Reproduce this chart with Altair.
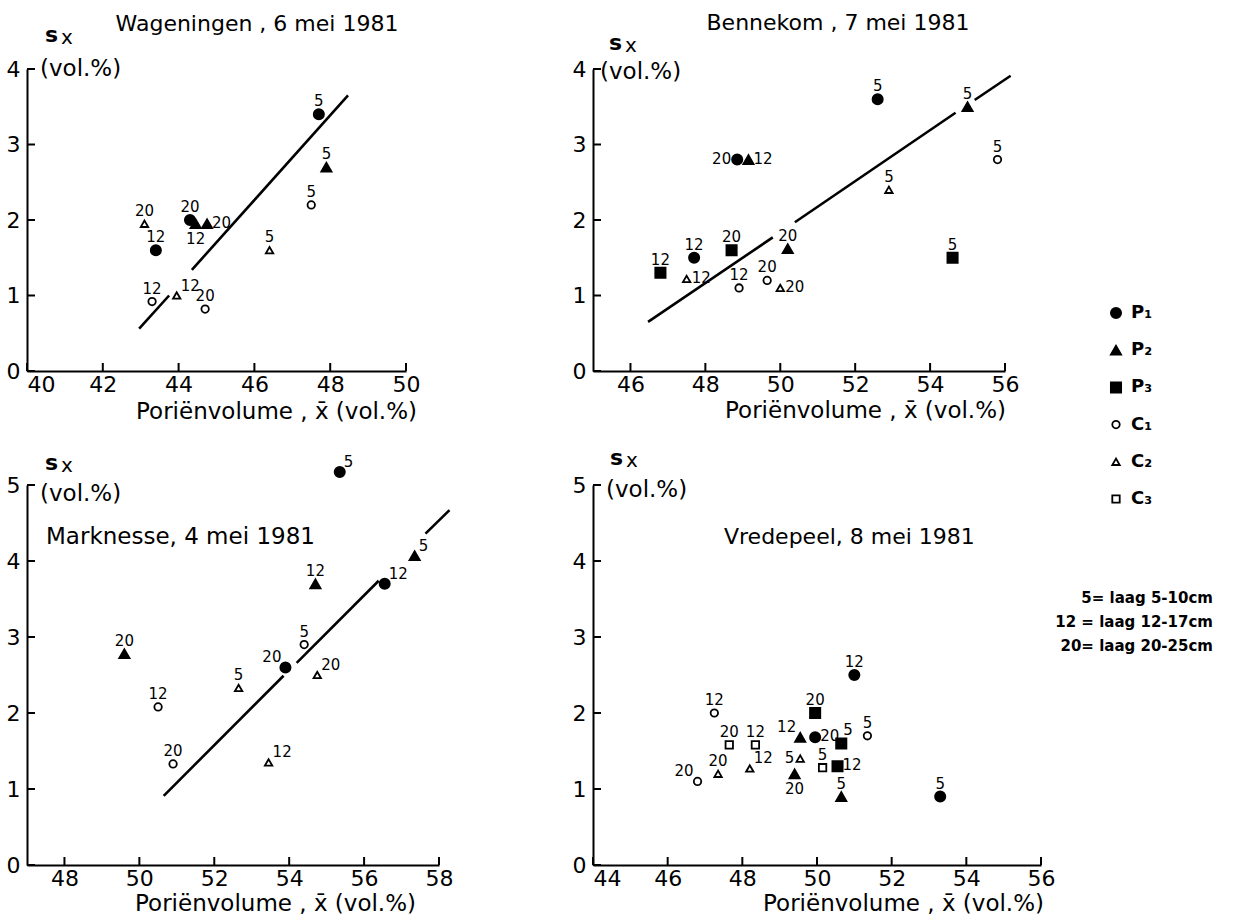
import altair as alt
import pandas as pd

FONT = "DejaVu Sans"

# Series (treatment) codes, their printed names and symbol styles
SERIES = ["P1", "P2", "P3", "C1", "C2", "C3"]
SERIES_TEXT = ["P₁", "P₂", "P₃", "C₁", "C₂", "C₃"]
SHAPES = ["circle", "triangle-up", "square", "circle", "triangle-up", "square"]
FILLS = ["black", "black", "black", "white", "white", "white"]
FILLED = ["P1", "P2", "P3"]

# --- Wageningen, 6 mei 1981 ---
wag_series = ["P1", "P2", "C1", "C2", "C2", "P1", "P1", "P2", "P2", "C1", "C2", "C1"]
wag_x = [47.7, 47.9, 47.5, 46.4, 43.1, 43.4, 44.3, 44.45, 44.75, 43.3, 43.95, 44.7]
wag_y = [3.4, 2.7, 2.2, 1.6, 1.95, 1.6, 2.0, 1.95, 1.95, 0.92, 1.0, 0.82]
wag_depth = [5, 5, 5, 5, 20, 12, 20, 12, 20, 12, 12, 20]
wag_place = ["t", "t", "t", "t", "t", "t", "t", "b", "r", "t", "tr", "t"]
wag_line_seg = [0, 0, 1, 1]
wag_line_x = [42.96, 43.75, 44.35, 48.47]
wag_line_y = [0.56, 1.00, 1.34, 3.65]

# --- Bennekom, 7 mei 1981 ---
ben_series = ["P3", "P1", "C2", "P3", "C1", "C1", "C2", "P2", "P1", "P2",
              "P1", "P2", "C2", "P3", "C1"]
ben_x = [46.8, 47.7, 47.5, 48.7, 48.9, 49.65, 50.0, 50.2, 48.85, 49.15,
         52.6, 55.0, 52.9, 54.6, 55.8]
ben_y = [1.3, 1.5, 1.22, 1.6, 1.1, 1.2, 1.1, 1.62, 2.8, 2.8,
         3.6, 3.5, 2.4, 1.5, 2.8]
ben_depth = [12, 12, 12, 20, 12, 20, 20, 20, 20, 12, 5, 5, 5, 5, 5]
ben_place = ["t", "t", "r", "t", "t", "t", "r", "t", "l", "r", "t", "t", "t", "t", "t"]
ben_line_seg = [0, 0, 1, 1, 2, 2]
ben_line_x = [46.47, 49.8, 50.39, 54.68, 55.19, 56.15]
ben_line_y = [0.65, 1.77, 1.97, 3.42, 3.59, 3.91]

# --- Marknesse, 4 mei 1981 ---
mar_series = ["P1", "P2", "C1", "C1", "C2", "C2", "P1", "C1", "P2", "C2", "P1", "P2"]
mar_x = [55.35, 49.6, 50.5, 50.9, 52.65, 53.45, 53.9, 54.4, 54.7, 54.75, 56.55, 57.35]
mar_y = [5.17, 2.78, 2.08, 1.33, 2.33, 1.35, 2.6, 2.9, 3.7, 2.5, 3.7, 4.07]
mar_depth = [5, 20, 12, 20, 5, 12, 20, 5, 12, 20, 12, 5]
mar_place = ["tr", "t", "t", "t", "t", "tr", "tl", "t", "t", "tr", "tr", "tr"]
mar_line_seg = [0, 0, 1, 1, 2, 2]
mar_line_x = [50.65, 53.85, 54.2, 56.39, 57.64, 58.28]
mar_line_y = [0.91, 2.49, 2.66, 3.74, 4.36, 4.67]

# --- Vredepeel, 8 mei 1981 ---
vre_series = ["P1", "C1", "C3", "C3", "C1", "C2", "C2", "P2", "C2", "P2",
              "P3", "P1", "C3", "P3", "P3", "P2", "C1", "P1"]
vre_x = [51.0, 47.25, 47.65, 48.35, 46.8, 47.35, 48.2, 49.55, 49.55, 49.4,
         49.95, 49.95, 50.15, 50.65, 50.55, 50.65, 51.35, 53.3]
vre_y = [2.5, 2.0, 1.58, 1.58, 1.1, 1.2, 1.27, 1.68, 1.4, 1.2,
         2.0, 1.68, 1.28, 1.6, 1.3, 0.9, 1.7, 0.9]
vre_depth = [12, 12, 20, 12, 20, 20, 12, 12, 5, 20, 20, 20, 5, 5, 12, 5, 5, 5]
vre_place = ["t", "t", "t", "t", "tl", "t", "tr", "tl", "l", "b",
             "t", "r", "t", "tn", "r", "t", "t", "t"]

XTITLE = "Poriënvolume , x̄ (vol.%)"
LAYERS_NOTE = "5= laag  5-10cm\n12 = laag 12-17cm\n20= laag 20-25cm"

# where the depth number sits relative to its symbol
PLACES = {
    "t": dict(dx=0, dy=-13, align="center"),
    "tn": dict(dx=2, dy=-13, align="left"),
    "b": dict(dx=0, dy=15, align="center"),
    "r": dict(dx=5, dy=-1, align="left"),
    "l": dict(dx=-6, dy=-1, align="right"),
    "tr": dict(dx=4, dy=-10, align="left"),
    "tl": dict(dx=-4, dy=-10, align="right"),
}


def symbol_encoding():
    return dict(
        shape=alt.Shape("series:N", scale=alt.Scale(domain=SERIES, range=SHAPES), legend=None),
        fill=alt.Fill("series:N", scale=alt.Scale(domain=SERIES, range=FILLS), legend=None),
        size=alt.condition(alt.FieldOneOfPredicate(field="series", oneOf=FILLED),
                           alt.value(105), alt.value(55)),
    )


def text_at(text, x, y, size=22, align="left", weight="normal", baseline="middle", line_height=None):
    kw = dict(font=FONT, fontSize=size, align=align, baseline=baseline,
              color="black", fontWeight=weight)
    if line_height:
        kw.update(lineBreak="\n", lineHeight=line_height)
    return alt.Chart(pd.DataFrame({"t": [text]})).mark_text(**kw).encode(
        x=alt.value(x), y=alt.value(y), text="t:N")


def panel(series, xs_, ys_, depth, place, line, xdom, ydom, xticks, yticks,
          width, height, notes):
    xs = alt.Scale(domain=xdom, nice=False, zero=False)
    ys = alt.Scale(domain=ydom, nice=False, zero=False)
    label_align = {"condition": {"test": f"datum.value == {xdom[0]}", "value": "left"},
                   "value": "center"}
    xaxis = alt.Axis(values=xticks, ticks=False, grid=False, title=None,
                     labelFont=FONT, labelFontSize=22, labelColor="black",
                     labelPadding=3, labelAlign=label_align, labelFlush=False,
                     labelOverlap=False, domainColor="black", domainWidth=2)
    yaxis = alt.Axis(values=yticks, ticks=False, grid=False, title=None,
                     labelFont=FONT, labelFontSize=22, labelColor="black",
                     labelPadding=7, labelOverlap=False,
                     domainColor="black", domainWidth=2)

    def X(f):
        return alt.X(f, type="quantitative", scale=xs, axis=xaxis)

    def Y(f):
        return alt.Y(f, type="quantitative", scale=ys, axis=yaxis)

    pts = pd.DataFrame({"series": series, "x": xs_, "y": ys_,
                        "depth": depth, "place": place})
    layers = []

    # inward tick marks
    ytk = alt.Chart(pd.DataFrame({"v": yticks})).mark_rule(
        color="black", strokeWidth=2).encode(y=Y("v"), x=alt.value(0), x2=alt.value(8))
    xtk = alt.Chart(pd.DataFrame({"v": xticks})).mark_rule(
        color="black", strokeWidth=2).encode(x=X("v"), y=alt.value(height),
                                             y2=alt.value(height - 8))
    layers += [ytk, xtk]

    if line is not None:
        seg, lx, ly = line
        ldf = pd.DataFrame({"seg": seg, "x": lx, "y": ly})
        layers.append(alt.Chart(ldf).mark_line(color="black", strokeWidth=2.6).encode(
            x=X("x"), y=Y("y"), detail="seg:N"))

    layers.append(alt.Chart(pts).mark_point(stroke="black", strokeWidth=1.8, opacity=1).encode(
        x=X("x"), y=Y("y"), **symbol_encoding()))

    for code in sorted(set(place)):
        p = PLACES[code]
        layers.append(alt.Chart(pts).transform_filter(alt.datum.place == code).mark_text(
            font=FONT, fontSize=15, color="black", baseline="middle",
            dx=p["dx"], dy=p["dy"], align=p["align"]).encode(
            x=X("x"), y=Y("y"), text="depth:N"))

    layers += notes
    return alt.layer(*layers)


def decor(title, title_xy, title_align, s_xy, vol_xy, xt_xy, title_size=22):
    return [
        text_at(title, title_xy[0], title_xy[1], align=title_align, size=title_size),
        text_at("s", s_xy[0], s_xy[1], size=22, weight="bold"),
        text_at("x", s_xy[0] + 16, s_xy[1] + 3, size=20),
        text_at("(vol.%)", vol_xy[0], vol_xy[1], size=23),
        text_at(XTITLE, xt_xy[0], xt_xy[1], align="right", size=23),
    ]


W1, W2, W3, W4 = 379, 412, 412, 448
H_TOP, H_BOT = 302, 380

p1 = panel(wag_series, wag_x, wag_y, wag_depth, wag_place,
           (wag_line_seg, wag_line_x, wag_line_y),
           [40, 50], [0, 4], [40, 42, 44, 46, 48, 50], [0, 1, 2, 3, 4], W1, H_TOP,
           decor("Wageningen , 6 mei 1981", (230, -45), "center", (18, -34),
                 (13, 0), (W1 + 11, H_TOP + 41))).properties(width=W1, height=H_TOP)

p2_main = panel(ben_series, ben_x, ben_y, ben_depth, ben_place,
                (ben_line_seg, ben_line_x, ben_line_y),
                [45, 56], [0, 4], [46, 48, 50, 52, 54, 56], [0, 1, 2, 3, 4], W2, H_TOP,
                decor("Bennekom , 7 mei 1981", (245, -46), "center", (16, -26),
                      (7, 3), (W2 + 1, H_TOP + 40)))

# symbol key at the right-hand side
key = pd.DataFrame({"series": SERIES, "label": SERIES_TEXT})
key_y = alt.Y("series:N", scale=alt.Scale(type="point", domain=SERIES,
                                          range=[244, 430], padding=0), axis=None)
key_pts = alt.Chart(key).mark_point(stroke="black", strokeWidth=1.8, opacity=1).encode(
    x=alt.value(523), y=key_y, **symbol_encoding())
key_txt = alt.Chart(key).mark_text(font=FONT, fontSize=18, fontWeight="bold",
                                   align="left", baseline="middle", color="black").encode(
    x=alt.value(538), y=key_y, text="label:N")

p2 = alt.layer(p2_main, key_pts, key_txt).resolve_scale(y="independent").properties(
    width=W2, height=H_TOP)

p3 = panel(mar_series, mar_x, mar_y, mar_depth, mar_place,
           (mar_line_seg, mar_line_x, mar_line_y),
           [47, 58], [0, 5], [48, 50, 52, 54, 56, 58], [0, 1, 2, 3, 4, 5], W3, H_BOT,
           decor("Marknesse, 4 mei 1981", (19, 52), "left", (18, -22),
                 (13, 9), (W3 - 23, H_BOT + 39), title_size=23)).properties(width=W3, height=H_BOT)

p4 = panel(vre_series, vre_x, vre_y, vre_depth, vre_place, None,
           [44, 56], [0, 5], [44, 46, 48, 50, 52, 54, 56], [0, 1, 2, 3, 4, 5], W4, H_BOT,
           decor("Vredepeel, 8 mei 1981", (131, 52), "left", (17, -27),
                 (13, 5), (W4 + 3, H_BOT + 39))
           + [text_at(LAYERS_NOTE, 620, 113, size=15, align="right", weight="bold",
                      line_height=24)]).properties(width=W4, height=H_BOT)

chart = alt.concat(
    p1, p2, p3, p4, columns=2,
    spacing={"row": 114, "column": 154}, bounds="flush", align="each",
).resolve_scale(x="independent", y="independent").properties(
    padding={"left": 6, "top": 12, "right": 0, "bottom": 0},
    background="white",
).configure_view(stroke=None)

chart.save("out.html", embed_options={"renderer": "svg", "actions": False})
